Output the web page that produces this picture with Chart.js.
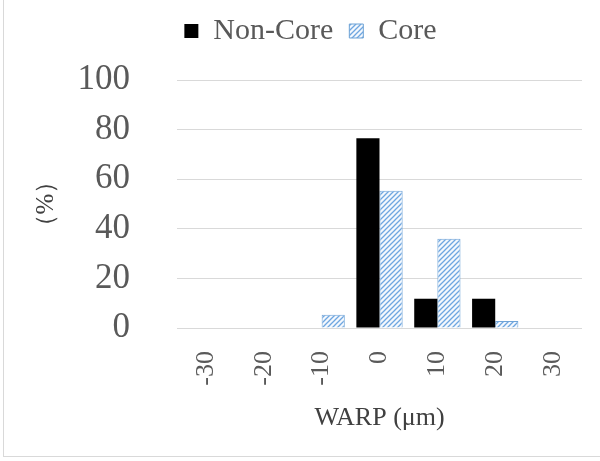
<!DOCTYPE html>
<html lang="en">
<head>
<meta charset="UTF-8">
<title>WARP</title>
<script src="https://cdn.jsdelivr.net/npm/chart.js"></script>
<style>
    body { margin: 0; background: #fff; }
    .wrap { position: relative; width: 600px; height: 461px; }
    .marco {
        position: absolute; left: 3px; top: 0; width: 597px; height: 456px;
        border-left: 1px solid #d9d9d9; border-bottom: 1px solid #d9d9d9;
        pointer-events: none;
    }
</style>
</head>
<body>
<div class="wrap">
    <canvas id="grafico" width="600" height="461"></canvas>
    <div class="marco"></div>
</div>
<script>
    const categorias = ['-30', '-20', '-10', '0', '10', '20', '30'];
    const nonCore = [0, 0, 0, 76.5, 11.8, 11.8, 0];
    const core = [0, 0, 5.3, 55.3, 36.0, 2.8, 0];
    const yTicks = [0, 20, 40, 60, 80, 100];

    const serif = '"Liberation Serif", "Times New Roman", serif';
    const gris = '#595959';

    // rayado diagonal azul claro para "Core"
    function rayado() {
        const n = 5;
        const c = document.createElement('canvas');
        c.width = n; c.height = n;
        const g = c.getContext('2d');
        g.fillStyle = '#f4f8fd';
        g.fillRect(0, 0, n, n);
        g.strokeStyle = '#6ea6e0';
        g.lineWidth = 1.3;
        g.beginPath();
        g.moveTo(0, n); g.lineTo(n, 0);
        g.moveTo(-n / 2, n / 2); g.lineTo(n / 2, -n / 2);
        g.moveTo(n / 2, n * 1.5); g.lineTo(n * 1.5, n / 2);
        g.stroke();
        return g.createPattern(c, 'repeat');
    }

    const margenLeyenda = {
        id: 'margenLeyenda',
        beforeInit(chart) {
            if (!chart.legend) return;
            const fitOrig = chart.legend.fit;
            chart.legend.fit = function () {
                fitOrig.bind(chart.legend)();
                this.height = 80;
            };
        }
    };

    new Chart(document.getElementById('grafico'), {
        type: 'bar',
        data: {
            labels: categorias,
            datasets: [
                {
                    label: 'Non-Core',
                    data: nonCore,
                    backgroundColor: '#000000',
                    borderWidth: 0
                },
                {
                    label: 'Core',
                    data: core,
                    backgroundColor: rayado(),
                    borderColor: '#6fa3d6',
                    borderWidth: ctx => (ctx.raw > 0 ? 1 : 0)
                }
            ]
        },
        options: {
            responsive: false,
            animation: false,
            layout: { padding: { left: 31, right: 10, top: 0, bottom: 8 } },
            datasets: { bar: { categoryPercentage: 0.8, barPercentage: 1.0 } },
            plugins: {
                tooltip: { enabled: false },
                legend: {
                    position: 'top',
                    labels: {
                        font: { family: serif, size: 30 },
                        color: gris,
                        boxWidth: 14,
                        boxHeight: 14,
                        padding: 16,
                        generateLabels(chart) {
                            const items = Chart.defaults.plugins.legend.labels.generateLabels(chart);
                            items[1].lineWidth = 1;
                            items[1].strokeStyle = '#6fa3d6';
                            return items;
                        }
                    }
                }
            },
            scales: {
                x: {
                    grid: { display: false },
                    border: { display: false },
                    ticks: {
                        font: { family: serif, size: 26 },
                        color: gris,
                        minRotation: 90,
                        maxRotation: 90,
                        padding: 15
                    },
                    title: {
                        display: true,
                        text: 'WARP (μm)',
                        font: { family: serif, size: 26 },
                        color: '#404040',
                        padding: { top: 0, bottom: 19 }
                    },
                    afterFit(scale) { scale.height = 461 - 328 - 8; }
                },
                y: {
                    min: 0,
                    max: 100,
                    afterBuildTicks(scale) { scale.ticks = yTicks.map(v => ({ value: v })); },
                    grid: { color: '#d9d9d9', drawTicks: false, lineWidth: 1 },
                    border: { display: false },
                    ticks: {
                        font: { family: serif, size: 35 },
                        color: gris,
                        padding: 47
                    },
                    title: {
                        display: true,
                        text: '（%）',
                        font: { family: serif, size: 25 },
                        color: '#404040',
                        padding: { top: 0, bottom: 0 }
                    },
                    afterFit(scale) { scale.width = 177 - 31; }
                }
            }
        },
        plugins: [margenLeyenda]
    });
</script>
</body>
</html>
